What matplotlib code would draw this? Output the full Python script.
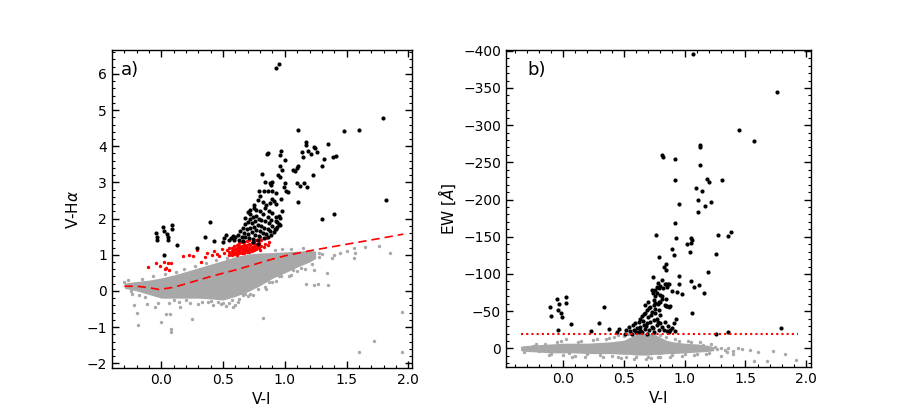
import matplotlib
matplotlib.use("Agg")
import matplotlib.pyplot as plt
from matplotlib.ticker import MultipleLocator

# ---------------- panel a) : V-Halpha vs V-I ----------------
# dense grey cloud, upper / lower envelope
a_cloud_x = [-0.30, -0.25, -0.20, -0.10, 0.00, 0.10, 0.20, 0.30, 0.40, 0.50,
             0.60, 0.70, 0.80, 0.90, 1.00, 1.10, 1.20, 1.25]
a_cloud_hi = [0.22, 0.24, 0.26, 0.30, 0.36, 0.44, 0.54, 0.64, 0.74, 0.84,
              0.95, 1.02, 1.05, 1.06, 1.08, 1.10, 1.12, 1.10]
a_cloud_lo = [0.07, 0.04, 0.00, -0.10, -0.20, -0.20, -0.20, -0.20, -0.22, -0.25,
              -0.15, -0.02, 0.15, 0.35, 0.50, 0.66, 0.80, 0.90]

# sparse grey stars (edges and outliers)
a_grey_x = [-0.30, -0.25, -0.22, -0.20, -0.19, -0.12, -0.05, 0.00, 0.04, 0.07,
            0.08, 0.08, 0.15, 0.25, 0.30, 0.42, 0.48, 0.52, 0.58, 0.62,
            0.70, 0.82, 0.85, 0.90, 0.95, 1.05, 1.10, 1.17, 1.24, 1.27,
            1.34, 1.35, 1.30, 1.38, 1.40, 1.45, 1.50, 1.56, 1.57, 1.56,
            1.65, 1.76, 1.85, 1.60, 1.72, 1.95, 1.95,
            -0.27, -0.24, -0.16, -0.13, -0.07, -0.03, 0.03, 0.06, 0.12, 0.14,
            0.18, 0.23, 0.27, 0.33, 0.36, 0.38, 0.44, 0.46, 0.53, 0.55,
            0.57, 0.63, 0.66, 0.68, 0.72, 0.74, 0.78, 0.84, 0.87, 0.93,
            0.97, 1.03, 1.07, 1.13, 1.16, 1.22, 1.24, 0.92, 0.98, 1.05,
            1.15, 1.28, 1.28, 0.60, 0.50, 0.65, -0.18, 0.10, 0.20, 0.40]
a_grey_y = [0.26, 0.00, -0.38, -0.60, -0.95, -0.35, -0.45, -0.85, -0.65, -0.65,
            -1.05, -1.13, -0.45, -0.78, -0.35, -0.38, -0.36, -0.42, -0.45, -0.30,
            -0.15, -0.75, 0.05, 0.25, 0.40, 0.45, 0.55, 0.18, 0.17, 0.20,
            0.49, 0.17, 1.02, 0.92, 1.00, 1.05, 1.10, 1.18, 1.04, 0.90,
            1.22, 1.23, 1.04, -1.68, -1.38, -1.70, -0.57,
            0.30, -0.08, 0.32, -0.17, 0.40, -0.32, 0.47, -0.32, 0.52, -0.30,
            0.60, -0.32, 0.68, -0.30, 0.78, -0.30, 0.85, -0.30, 0.90, -0.33,
            -0.25, -0.22, -0.12, -0.08, -0.08, -0.10, 0.05, 0.12, 0.25, 0.28,
            0.42, 0.40, 0.58, 0.64, 0.62, 0.74, 0.58, 1.12, 1.15, 1.16,
            1.20, 1.05, 0.95, -0.38, -0.32, -0.05, -0.12, -0.26, -0.26, -0.28]

# red stars
a_red_x = [-0.11, -0.04, -0.01, 0.02, 0.05, 0.08, 0.04, 0.06, 0.03, 0.175,
           0.22, 0.26, 0.32, 0.29, 0.37, 0.35, 0.41, 0.43, 0.45, 0.47,
           0.49, 0.51, 0.53,
           0.55, 0.55, 0.55, 0.57, 0.57, 0.57, 0.59, 0.59, 0.59,
           0.61, 0.61, 0.61, 0.61, 0.63, 0.63, 0.63, 0.63,
           0.65, 0.65, 0.65, 0.65, 0.67, 0.67, 0.67, 0.67,
           0.69, 0.69, 0.69, 0.69, 0.71, 0.71, 0.71, 0.71,
           0.73, 0.73, 0.73, 0.75, 0.75, 0.75, 0.77, 0.77, 0.77,
           0.79, 0.79, 0.81, 0.81, 0.84, 0.84, 0.87, 0.80, 0.85,
           0.56, 0.58, 0.60, 0.62, 0.64, 0.66, 0.68, 0.70, 0.72, 0.74,
           0.76, 0.78, 0.60, 0.64, 0.68, 0.72, 0.76, 0.80, 0.83, 0.86]
a_red_y = [0.67, 0.77, 0.70, 0.80, 0.78, 0.76, 0.63, 0.58, 0.60, 0.97,
           0.99, 0.96, 0.80, 1.13, 1.06, 0.95, 0.98, 1.10, 1.02, 0.97,
           1.15, 1.04, 1.12,
           0.98, 1.08, 1.18, 1.00, 1.10, 1.20, 1.02, 1.12, 1.24,
           1.00, 1.10, 1.20, 1.28, 1.04, 1.14, 1.24, 1.32,
           1.05, 1.15, 1.25, 1.34, 1.06, 1.16, 1.27, 1.36,
           1.07, 1.18, 1.28, 1.38, 1.08, 1.20, 1.30, 1.40,
           1.10, 1.22, 1.33, 1.12, 1.24, 1.36, 1.15, 1.27, 1.40,
           1.20, 1.32, 1.25, 1.40, 1.30, 1.45, 1.35, 1.50, 1.45,
           1.03, 1.05, 1.15, 1.05, 1.19, 1.10, 1.22, 1.13, 1.26, 1.17,
           1.30, 1.21, 1.06, 1.09, 1.12, 1.15, 1.19, 1.13, 1.22, 1.28]

# black (emission) stars
a_blk_x = [-0.046, -0.032, -0.032, 0.016, 0.022, 0.043, 0.054, 0.054, 0.083, 0.083,
           0.022, 0.13, 0.29, 0.355, 0.393, 0.43, 0.498, 0.506, 0.525,
           0.95, 0.931, 1.793, 1.109, 1.48, 1.602, 1.817, 1.349, 1.174, 1.168,
           1.233, 1.244, 1.26, 1.139, 1.184, 1.149, 1.21, 1.314, 1.394, 1.416,
           1.305, 0.966, 0.964, 0.864, 0.859, 0.999, 0.964, 0.974, 1.103, 1.098,
           1.066, 1.085, 0.816, 0.948, 0.958, 1.225, 0.837, 0.883, 0.90, 0.891,
           1.00, 0.993, 1.006, 1.026, 1.095, 1.12, 1.158, 1.18, 1.106, 0.972,
           0.977, 0.95, 0.934, 0.958, 0.926, 1.402, 1.30,
           0.79, 0.83, 0.86, 0.90, 0.93, 0.80, 0.78, 0.82, 0.85, 0.88,
           0.90, 0.91, 0.93, 0.75, 0.77, 0.80, 0.84, 0.87, 0.82, 0.86,
           0.90, 0.93, 0.72, 0.75, 0.68,
           0.70, 0.72, 0.74, 0.77, 0.79, 0.81, 0.84, 0.87, 0.89, 0.72,
           0.70, 0.68, 0.73, 0.76, 0.78, 0.81, 0.83, 0.86, 0.88, 0.66,
           0.69, 0.72, 0.75, 0.77, 0.80, 0.82, 0.85, 0.64, 0.67, 0.70,
           0.73, 0.76, 0.79, 0.62, 0.65, 0.68, 0.71, 0.74, 0.60, 0.58,
           0.56, 0.55, 0.59, 0.63, 0.66, 0.78, 0.83, 0.86, 0.89, 0.91,
           0.92, 0.94, 0.95, 0.90, 0.93, 0.96, 0.78, 0.74]
a_blk_y = [1.61, 1.50, 1.41, 1.76, 1.67, 1.58, 1.50, 1.41, 1.82, 1.70,
           1.00, 1.27, 1.18, 1.48, 1.91, 1.39, 1.36, 1.46, 1.55,
           6.27, 6.16, 4.77, 4.44, 4.42, 4.44, 2.51, 4.06, 4.11, 4.04,
           3.97, 3.96, 3.84, 3.83, 3.86, 3.69, 3.78, 3.64, 3.69, 3.74,
           3.45, 3.86, 3.75, 3.80, 3.79, 3.61, 3.45, 3.33, 3.46, 3.39,
           3.35, 3.31, 3.23, 3.21, 3.16, 3.20, 3.02, 2.98, 3.00, 2.93,
           2.97, 2.86, 2.75, 2.74, 2.98, 2.90, 2.97, 2.87, 2.45, 2.53,
           2.21, 2.06, 1.90, 1.82, 1.71, 2.14, 1.98,
           2.75, 2.75, 2.76, 2.75, 2.72, 2.62, 2.50, 2.45, 2.38, 2.42,
           2.55, 2.48, 2.40, 2.30, 2.25, 2.20, 2.28, 2.20, 2.12, 2.05,
           2.15, 2.05, 2.25, 2.38, 2.02,
           2.18, 2.12, 2.05, 2.08, 2.00, 1.95, 1.92, 1.88, 1.96, 1.98,
           1.90, 1.85, 1.88, 1.92, 1.82, 1.80, 1.75, 1.72, 1.66, 1.75,
           1.70, 1.74, 1.76, 1.68, 1.65, 1.60, 1.58, 1.65, 1.60, 1.58,
           1.62, 1.55, 1.52, 1.55, 1.50, 1.48, 1.46, 1.44, 1.48, 1.52,
           1.45, 1.40, 1.42, 1.42, 1.38, 1.42, 1.45, 1.50, 1.56, 1.62,
           1.70, 1.78, 1.85, 1.80, 1.92, 2.02, 1.30, 1.35]

# red dashed reference sequence
a_line_x = [-0.30, -0.20, -0.10, -0.02, 0.10, 0.20, 0.30, 0.40, 0.50, 0.60,
            0.70, 0.80, 0.90, 1.00, 1.10, 1.20, 1.30, 1.40, 1.50, 1.60,
            1.70, 1.80, 1.96]
a_line_y = [0.13, 0.13, 0.09, 0.04, 0.10, 0.20, 0.30, 0.40, 0.49, 0.58,
            0.68, 0.78, 0.88, 0.97, 1.04, 1.11, 1.17, 1.23, 1.29, 1.35,
            1.41, 1.47, 1.57]

# ---------------- panel b) : EW vs V-I ----------------
b_cloud_x = [-0.35, -0.30, -0.20, -0.10, 0.00, 0.10, 0.20, 0.30, 0.40, 0.50,
             0.55, 0.60, 0.65, 0.70, 0.75, 0.80, 0.85, 0.90, 1.00, 1.10,
             1.20, 1.24]
b_cloud_hi = [-3, -4, -5, -6, -7, -7, -7, -8, -9, -11,
              -15, -19, -20, -20, -19, -15, -11, -9, -7, -6,
              -4, -2]
b_cloud_lo = [3, 4, 5, 6, 6, 6, 7, 7, 7, 8,
              8, 9, 9, 9, 8, 8, 7, 7, 6, 5,
              4, 3]

b_grey_x = [-0.30, -0.28, -0.25, -0.20, -0.15, -0.10, -0.05, 0.00, 0.02, 0.05,
            0.10, 0.12, 0.20, 0.25, 0.30, 0.35, 0.40, 0.42, 0.45, 0.50,
            0.52, 0.55, 0.60, 0.65, 0.70, 0.75, 0.80, 0.85, 0.90, 0.95,
            1.00, 1.05, 1.10, 1.15, 1.20, 1.25, 1.27, 1.30, 1.33, 1.36,
            1.40, 1.44, 1.47, 1.54, 1.57, 1.68, 1.73, 1.83, 1.92, 1.60,
            1.30, 1.40, 1.35,
            -0.32, -0.22, -0.12, -0.02, 0.07, 0.15, 0.18, 0.28, 0.33, 0.38,
            0.48, 0.58, 0.68, 0.72, 0.78, 0.88, 0.92, 0.98, 1.03, 1.08,
            1.13, 1.18, 1.22, 0.45, 0.53, 0.62, 0.70, 0.80]
b_grey_y = [-1, 2, -3, 4, -6, 7, -8, 9, -12, 6,
            10, -9, 8, -11, 9, -13, 10, -15, 12, -16,
            11, -19, 12, -19, 12, -19, 11, -15, 9, -10,
            8, -8, 7, -5, 6, -2, 1, -1, 2, -1,
            3, 0, 1, 2, 17, 17, 4, 7, 16, 5,
            10, 8, 5,
            5, -6, 9, -10, 11, -10, 12, -12, 12, -14,
            13, 14, 14, 13, 12, 11, -13, 10, -10, 9,
            -8, 8, -6, -18, -20, -21, -21, -18]

b_blk_x = [1.067, 1.764, 1.445, 1.569, 1.13, 1.124, 0.815, 0.82, 0.919, 1.127,
           0.924, 1.308, 1.185, 1.202, 1.097, 1.144, 1.111, 1.218, 0.955, 1.169,
           1.108, 0.919, 0.768, 0.93, 1.056, 1.06, 1.05, 1.02, 1.276, 1.355,
           1.38, 1.26, 1.19, 1.05, 1.075, 1.12, 1.16, 1.26, 1.36, 1.79,
           0.897, 0.91, 0.787, 1.045, 0.828, 0.847, 0.85, 0.74, 0.81, 0.955,
           0.86, 0.875, 0.845, 0.785, 0.80, 0.77, 0.957, 0.98, 0.94, 0.90,
           0.85, 0.87, 0.88, 1.06, 0.93, 0.91, 0.90, 0.85, 0.81, 0.76,
           0.74, 0.73, 0.75, 0.78, 0.80,
           -0.11, -0.10, -0.05, -0.036, -0.04, -0.014, -0.008, 0.02, 0.02, -0.04,
           0.066, 0.334, 0.299, 0.375, 0.23, 0.458, 0.444, 0.518,
           0.842, 0.855, 0.787, 0.754, 0.773, 0.80, 0.82,
           0.54, 0.554, 0.573, 0.595, 0.622, 0.636, 0.65, 0.664, 0.677, 0.691,
           0.705, 0.718, 0.746, 0.76, 0.732, 0.76, 0.787, 0.80, 0.773, 0.746,
           0.718, 0.691, 0.664, 0.636, 0.609, 0.581, 0.672, 0.705, 0.732, 0.773,
           0.80, 0.814, 0.828, 0.855, 0.869, 0.622, 0.65, 0.691, 0.746, 0.567,
           0.513, 0.842, 0.856, 0.792, 0.814, 0.677, 0.699,
           0.63, 0.66, 0.70, 0.74, 0.78, 0.60, 0.68, 0.72, 0.76, 0.79,
           0.84, 0.86, 0.88, 0.92]
b_blk_y = [-396, -344, -294, -279, -274, -270, -260, -257, -254, -246,
           -226, -226, -227, -224, -215, -211, -199, -197, -194, -192,
           -183, -168, -153, -148, -149, -146, -142, -140, -153, -151,
           -157, -127, -103, -90, -82, -85, -75, -19, -22, -27,
           -134, -125, -123, -130, -110, -105, -113, -96, -92, -97,
           -86, -87, -86, -88, -84, -82, -86, -73, -76, -77,
           -57, -56, -57, -48, -40, -34, -28, -66, -70, -70,
           -74, -78, -65, -60, -62,
           -56, -44, -67, -60, -52, -47, -42, -69, -61, -25,
           -33, -56, -34, -26, -24, -26, -22, -25,
           -86, -83, -81, -78, -74, -72, -81,
           -29, -23, -31, -34, -36, -40, -43, -46, -47, -52,
           -54, -56, -58, -61, -49, -47, -52, -45, -40, -38,
           -36, -34, -31, -29, -27, -25, -26, -25, -29, -31,
           -34, -29, -25, -23, -22, -22, -22, -20, -22, -20,
           -20, -58, -57, -63, -67, -58, -63,
           -25, -37, -42, -28, -36, -22, -30, -45, -53, -25,
           -35, -30, -25, -23]

EW_CUT = -20
EW_CUT_X = [-0.35, 1.93]

GREY = "#a8a8a8"

fig = plt.figure(figsize=(9, 4.2), dpi=100)
ax1 = fig.add_axes([112 / 900, 52 / 420, 300 / 900, 318 / 420])
ax2 = fig.add_axes([506 / 900, 53 / 420, 305 / 900, 317 / 420])

# panel a
ax1.fill_between(a_cloud_x, a_cloud_lo, a_cloud_hi, color=GREY, lw=0, zorder=1)
ax1.scatter(a_grey_x, a_grey_y, s=6, color=GREY, lw=0, zorder=1)
ax1.plot(a_line_x, a_line_y, color="red", ls=(0, (5, 3)), lw=1.2, zorder=2)
ax1.scatter(a_red_x, a_red_y, s=6, color="red", lw=0, zorder=3)
ax1.scatter(a_blk_x, a_blk_y, s=9, color="black", lw=0, zorder=4)
ax1.set_xlim(-0.4, 2.03)
ax1.set_ylim(-2.13, 6.66)
ax1.set_xlabel("V-I", fontsize=11)
ax1.set_ylabel(r"V-H$\alpha$", fontsize=11)
ax1.text(0.03, 0.965, "a)", transform=ax1.transAxes, fontsize=13, va="top")
ax1.xaxis.set_major_locator(MultipleLocator(0.5))
ax1.xaxis.set_minor_locator(MultipleLocator(0.1))
ax1.yaxis.set_major_locator(MultipleLocator(1))
ax1.yaxis.set_minor_locator(MultipleLocator(0.2))

# panel b
ax2.fill_between(b_cloud_x, b_cloud_lo, b_cloud_hi, color=GREY, lw=0, zorder=1)
ax2.scatter(b_grey_x, b_grey_y, s=6, color=GREY, lw=0, zorder=1)
ax2.scatter(b_blk_x, b_blk_y, s=9, color="black", lw=0, zorder=3)
ax2.plot(EW_CUT_X, [EW_CUT, EW_CUT], color="red", ls=(0, (1, 1.5)), lw=1.5, zorder=4)
ax2.set_xlim(-0.47, 2.04)
ax2.set_ylim(25, -401)
ax2.set_xlabel("V-I", fontsize=11)
ax2.set_ylabel(r"EW [$\AA$]", fontsize=11)
ax2.text(0.07, 0.965, "b)", transform=ax2.transAxes, fontsize=13, va="top")
ax2.xaxis.set_major_locator(MultipleLocator(0.5))
ax2.xaxis.set_minor_locator(MultipleLocator(0.1))
ax2.yaxis.set_major_locator(MultipleLocator(50))
ax2.yaxis.set_minor_locator(MultipleLocator(10))

for ax in (ax1, ax2):
    ax.tick_params(which="both", direction="in", top=True, right=True, labelsize=10)
    ax.tick_params(which="major", length=5, width=1)
    ax.tick_params(which="minor", length=2.5, width=0.8)
    for sp in ax.spines.values():
        sp.set_linewidth(1.0)

fig.savefig("out.png", dpi=100)
